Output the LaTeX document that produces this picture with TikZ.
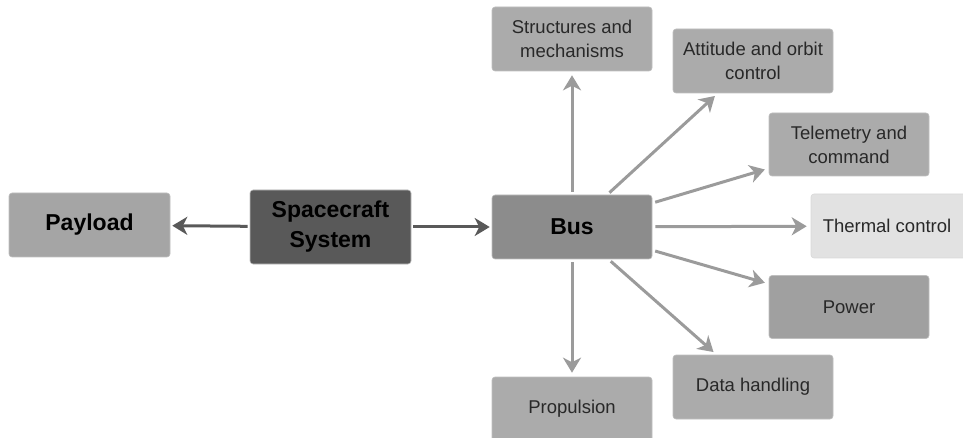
\documentclass[tikz,border=0pt]{standalone}
\usepackage{fontspec}
\setmainfont{Liberation Sans}
\usetikzlibrary{arrows.meta, positioning}
\definecolor{sysdark}{RGB}{89,89,89}
\definecolor{busgray}{RGB}{140,140,140}
\definecolor{paygray}{RGB}{165,165,165}
\definecolor{subgray}{RGB}{171,171,171}
\definecolor{powgray}{RGB}{160,160,160}
\definecolor{thermlight}{RGB}{226,226,226}
\definecolor{arrlight}{RGB}{155,155,155}
\definecolor{txtgray}{RGB}{40,40,40}

\begin{document}
\begin{tikzpicture}[
    x=1pt, y=-1pt,
    box/.style={rectangle, rounded corners=3pt, draw=black!25, line width=0.6pt,
                inner sep=0pt, minimum width=160pt, minimum height=64pt, align=center},
    sub/.style={box, fill=subgray, text=txtgray, font=\fontsize{18.5}{24}\selectfont},
    main/.style={box, font=\fontsize{23}{30}\selectfont\bfseries},
    darr/.style={-{Stealth[length=15pt, width=18pt, inset=4.5pt]}, line width=3pt, sysdark,
                 shorten <=2pt, shorten >=2pt},
    larr/.style={-{Stealth[length=15pt, width=18pt, inset=4.5pt]}, line width=3pt, arrlight,
                 shorten <=3pt, shorten >=4pt}
]
\useasboundingbox (0,0) rectangle (963,438);

% livello principale
\node[main, fill=paygray, minimum width=161pt] (payload) at (89.5,225) {Payload};
\node[main, fill=sysdark, minimum width=161pt, minimum height=74pt] (sys) at (330.5,227) {Spacecraft\\System};
\node[main, fill=busgray] (bus) at (572,227) {Bus};

% sottosistemi del bus
\node[sub] (struct) at (572,39) {Structures and\\mechanisms};
\node[sub] (aocs) at (753,61) {Attitude and orbit\\control};
\node[sub, minimum height=63pt] (ttc) at (849,144.5) {Telemetry and\\command};
\node[sub, fill=thermlight, draw=black!15] (thermal) at (891,226) {\hspace*{-8pt}Thermal control};
\node[sub, fill=powgray, minimum height=63pt] (power) at (849,307) {Power};
\node[sub] (data) at (753,387) {Data handling};
\node[sub] (prop) at (572,409) {Propulsion};

% frecce scure
\draw[darr] (sys) -- (payload);
\draw[darr] (sys) -- (bus);

% frecce verso i sottosistemi
\foreach \s in {struct, aocs, ttc, thermal, power, data, prop}{
    \draw[larr] (bus) -- (\s);
}
\end{tikzpicture}
\end{document}
